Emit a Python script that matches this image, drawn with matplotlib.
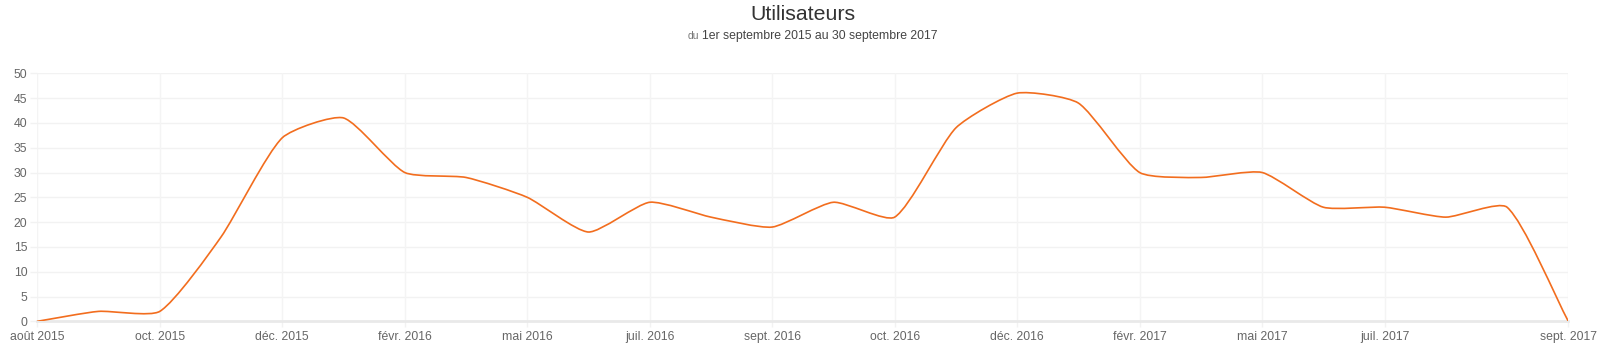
import matplotlib
matplotlib.use("Agg")
import matplotlib.pyplot as plt
from matplotlib.path import Path
from matplotlib.patches import PathPatch
import numpy as np

plt.rcParams['font.family'] = ['Liberation Sans', 'DejaVu Sans']

# ---- data ----
values = [0, 2, 2, 17, 37, 41, 30, 29, 25, 18, 24, 21, 19, 24, 21, 39, 46, 44,
          30, 29, 30, 23, 23, 21, 23, 0]
tick_index = [0, 2, 4, 6, 8, 10, 12, 14, 16, 18, 20, 22, 25]
tick_labels = ["août 2015", "oct. 2015", "déc. 2015", "févr. 2016", "mai 2016",
               "juil. 2016", "sept. 2016", "oct. 2016", "déc. 2016", "févr. 2017",
               "mai 2017", "juil. 2017", "sept. 2017"]
y_ticks = [0, 5, 10, 15, 20, 25, 30, 35, 40, 45, 50]
title = "Utilisateurs"
subtitle_prefix = "du"
subtitle = "1er septembre 2015 au 30 septembre 2017"

W, H = 1605, 356
fig = plt.figure(figsize=(W / 100, H / 100), dpi=100)
left, right, top, bottom = 37.3, 1568.3, 73.3, 321.3
ax = fig.add_axes([left / W, 1 - bottom / H, (right - left) / W, (bottom - top) / H])

n = len(values)
x = np.arange(n, dtype=float)
y = np.array(values, dtype=float)
ax.set_xlim(0, n - 1)
ax.set_ylim(0, 50)

# Chart.js style bezier computed in pixel space
sx = (right - left) / (n - 1)
sy = (bottom - top) / 50.0
px, py = x * sx, y * sy
t = 0.2
cp_prev, cp_next = [], []
for i in range(n):
    pi = max(i - 1, 0)
    ni = min(i + 1, n - 1)
    d01 = np.hypot(px[i] - px[pi], py[i] - py[pi])
    d12 = np.hypot(px[ni] - px[i], py[ni] - py[i])
    tot = d01 + d12
    s01 = d01 / tot if tot else 0
    s12 = d12 / tot if tot else 0
    fa, fb = t * s01, t * s12
    cp_prev.append((px[i] - fa * (px[ni] - px[pi]), py[i] - fa * (py[ni] - py[pi])))
    cp_next.append((px[i] + fb * (px[ni] - px[pi]), py[i] + fb * (py[ni] - py[pi])))

def to_data(p):
    return (min(max(p[0] / sx, 0), n - 1), min(max(p[1] / sy, 0), 50))

verts = [(x[0], y[0])]
codes = [Path.MOVETO]
for i in range(n - 1):
    verts += [to_data(cp_next[i]), to_data(cp_prev[i + 1]), (x[i + 1], y[i + 1])]
    codes += [Path.CURVE4] * 3
ax.add_patch(PathPatch(Path(verts, codes), fill=False, edgecolor='#f26d1e',
                       linewidth=1.2, zorder=3, capstyle='round', joinstyle='round'))

# grid
for v in y_ticks[1:]:
    ax.axhline(v, color='#f2f2f2', linewidth=1.0, zorder=1)
for ti in tick_index:
    ax.axvline(ti, color='#f4f4f4', linewidth=1.0, zorder=1)
ax.axhline(0, color='#e9e9e9', linewidth=2.0, zorder=2, clip_on=False)

for s in ax.spines.values():
    s.set_visible(False)

ax.set_xticks(tick_index)
ax.set_xticklabels(tick_labels)
ax.set_yticks(y_ticks)
ax.set_yticklabels([str(v) for v in y_ticks])
ax.tick_params(axis='both', labelsize=8.8, labelcolor='#666666',
               color='#f2f2f2', width=1.0)
ax.tick_params(axis='y', length=5.0, pad=2.2)
ax.tick_params(axis='x', length=4.3, pad=2.4)

# titles
fig.text(803 / W, 1 - 14 / H, title, ha='center', va='center',
         fontsize=15.3, color='#333333')
fig.text(699 / W, 1 - 36 / H, subtitle_prefix, ha='right', va='center',
         fontsize=7.5, color='#777777')
fig.text(702 / W, 1 - 35.5 / H, subtitle, ha='left', va='center',
         fontsize=8.8, color='#444444')

fig.savefig("out.png", dpi=100, facecolor='white')
